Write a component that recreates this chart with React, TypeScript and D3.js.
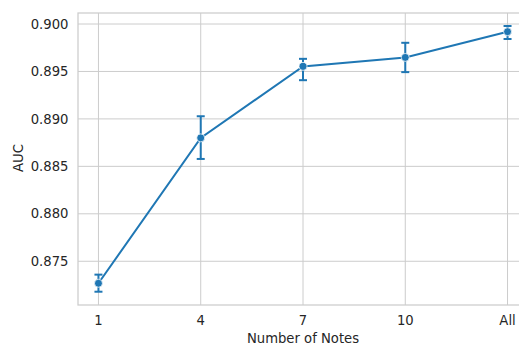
import { useEffect, useRef } from 'react'
import * as d3 from 'd3'

const categories = ['1', '4', '7', '10', 'All']
const aucMean = [0.87268, 0.888, 0.89553, 0.89648, 0.89919]
const aucLow = [0.87179, 0.88578, 0.89408, 0.89493, 0.89842]
const aucHigh = [0.87359, 0.89028, 0.89633, 0.89802, 0.89979]
const yTicks = [0.875, 0.88, 0.885, 0.89, 0.895, 0.9]

const W = 519
const H = 345
const FONT = '"DejaVu Sans", sans-serif'
const FS = 13.2
const BLUE = '#1f77b4'
const TEXT = '#262626'
const GRID = '#cccccc'

export default function App() {
  const ref = useRef<SVGSVGElement | null>(null)
  useEffect(() => {
    const svg = d3.select(ref.current)
    svg.selectAll('*').remove()
    const margin = { top: 13, right: -9, bottom: 40, left: 78 }
    const innerW = W - margin.left - margin.right
    const innerH = H - margin.top - margin.bottom

    const x = d3.scaleLinear().domain([-0.2, categories.length - 0.8]).range([0, innerW])
    const y = d3.scaleLinear().domain([0.87039, 0.90116]).range([innerH, 0])

    const g = svg.append('g').attr('transform', `translate(${margin.left},${margin.top})`)

    // grid
    g.selectAll('.hgrid')
      .data(yTicks)
      .enter()
      .append('line')
      .attr('x1', 0)
      .attr('x2', innerW)
      .attr('y1', (d) => y(d))
      .attr('y2', (d) => y(d))
      .attr('stroke', GRID)
      .attr('stroke-width', 1)
    g.selectAll('.vgrid')
      .data(categories)
      .enter()
      .append('line')
      .attr('x1', (_, i) => x(i))
      .attr('x2', (_, i) => x(i))
      .attr('y1', 0)
      .attr('y2', innerH)
      .attr('stroke', GRID)
      .attr('stroke-width', 1)

    // spines
    g.append('rect')
      .attr('x', 0)
      .attr('y', 0)
      .attr('width', innerW)
      .attr('height', innerH)
      .attr('fill', 'none')
      .attr('stroke', GRID)
      .attr('stroke-width', 1.25)

    // tick labels
    g.selectAll('.ylab')
      .data(yTicks)
      .enter()
      .append('text')
      .attr('x', -9.5)
      .attr('y', (d) => y(d))
      .attr('dy', '0.35em')
      .attr('text-anchor', 'end')
      .attr('font-family', FONT)
      .attr('font-size', FS)
      .attr('fill', TEXT)
      .text((d) => d3.format('.3f')(d))
    g.selectAll('.xlab')
      .data(categories)
      .enter()
      .append('text')
      .attr('x', (_, i) => x(i))
      .attr('y', innerH + 20)
      .attr('text-anchor', 'middle')
      .attr('font-family', FONT)
      .attr('font-size', FS)
      .attr('fill', TEXT)
      .text((d) => d)

    // axis titles
    g.append('text')
      .attr('x', x((categories.length - 1) / 2))
      .attr('y', innerH + 37.5)
      .attr('text-anchor', 'middle')
      .attr('font-family', FONT)
      .attr('font-size', FS)
      .attr('fill', TEXT)
      .text('Number of Notes')
    svg.append('text')
      .attr('transform', `translate(22.5,${margin.top + innerH / 2 - 1}) rotate(-90)`)
      .attr('text-anchor', 'middle')
      .attr('font-family', FONT)
      .attr('font-size', FS)
      .attr('fill', TEXT)
      .text('AUC')

    // line
    const line = d3
      .line<number>()
      .x((_, i) => x(i))
      .y((d) => y(d))
    g.append('path')
      .datum(aucMean)
      .attr('fill', 'none')
      .attr('stroke', BLUE)
      .attr('stroke-width', 2)
      .attr('d', line)

    // error bars
    const cap = 4
    categories.forEach((_, i) => {
      const cx = x(i)
      g.append('line')
        .attr('x1', cx)
        .attr('x2', cx)
        .attr('y1', y(aucLow[i]))
        .attr('y2', y(aucHigh[i]))
        .attr('stroke', BLUE)
        .attr('stroke-width', 2)
      for (const v of [aucLow[i], aucHigh[i]]) {
        g.append('line')
          .attr('x1', cx - cap)
          .attr('x2', cx + cap)
          .attr('y1', y(v))
          .attr('y2', y(v))
          .attr('stroke', BLUE)
          .attr('stroke-width', 2)
      }
    })

    // markers
    g.selectAll('.pt')
      .data(aucMean)
      .enter()
      .append('circle')
      .attr('cx', (_, i) => x(i))
      .attr('cy', (d) => y(d))
      .attr('r', 4)
      .attr('fill', BLUE)
      .attr('stroke', '#fff')
      .attr('stroke-width', 0.75)
  }, [])
  return (
    <svg
      ref={ref}
      width={W}
      height={H}
      style={{ position: 'absolute', left: 0, top: 0, background: '#fff' }}
    />
  )
}
